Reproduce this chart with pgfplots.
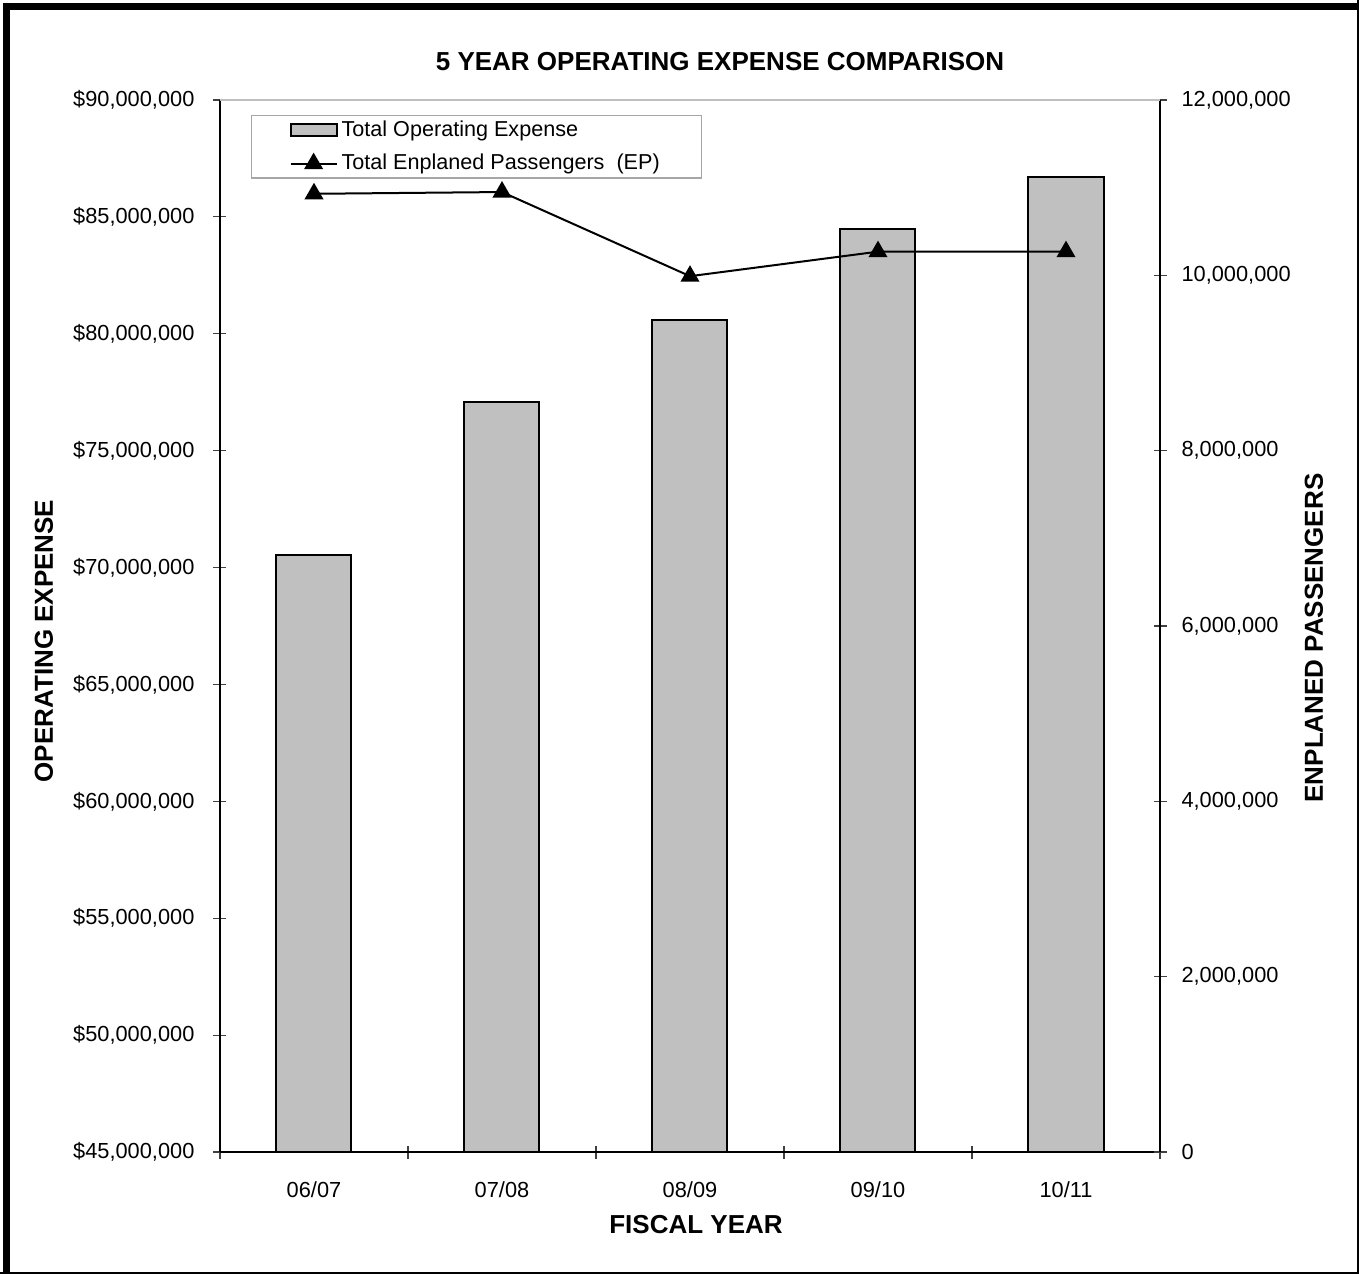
\documentclass[border=0pt]{standalone}
\usepackage{fontspec}
\setmainfont{Liberation Sans}
\usepackage{pgfplots}
\pgfplotsset{compat=1.18}
\definecolor{barfill}{HTML}{C0C0C0}
\pgfplotsset{wideline legend/.style={legend image code/.code={\draw[mark repeat=2,mark phase=2,##1] plot coordinates {(0pt,0pt) (11.5pt,0pt) (23pt,0pt)};}}}

\begin{document}
\begin{tikzpicture}
\useasboundingbox (-110pt,-61pt) rectangle (569.5pt,576pt);
\begin{axis}[
  at={(0pt,0pt)}, anchor=south west,
  scale only axis, width=470pt, height=526pt,
  xmin=-0.5, xmax=4.5,
  ymin=45000000, ymax=90000000,
  scaled y ticks=false,
  axis x line*=bottom, axis y line*=left,
  axis line style={-, black, line width=0.8pt},
  ytick={45000000,50000000,55000000,60000000,65000000,70000000,75000000,80000000,85000000,90000000},
  yticklabels={{\$45,000,000},{\$50,000,000},{\$55,000,000},{\$60,000,000},{\$65,000,000},{\$70,000,000},{\$75,000,000},{\$80,000,000},{\$85,000,000},{\$90,000,000}},
  xtick={0,1,2,3,4},
  xticklabels={06/07,07/08,08/09,09/10,10/11},
  minor xtick={-0.5,0.5,1.5,2.5,3.5,4.5},
  every major x tick/.append style={draw=none},
  tick align=center, major tick length=6.5pt, minor tick length=6.5pt,
  tick style={black!75, line width=0.6pt},
  tick label style={font=\fontsize{10.9}{12}\selectfont},
  xticklabel style={yshift=-8pt},
  yticklabel style={xshift=-6pt},
]
\addplot[ybar, bar width=37.5pt, fill=barfill, draw=black, line width=1pt]
  coordinates {(0,70530000) (1,77080000) (2,80590000) (3,84480000) (4,86700000)};
\end{axis}
\begin{axis}[
  at={(0pt,0pt)}, anchor=south west,
  scale only axis, width=470pt, height=526pt,
  xmin=-0.5, xmax=4.5,
  ymin=0, ymax=12000000,
  scaled y ticks=false,
  axis x line=none, axis y line*=right,
  axis line style={-, black, line width=0.8pt},
  ytick={0,2000000,4000000,6000000,8000000,10000000,12000000},
  yticklabels={0,{2,000,000},{4,000,000},{6,000,000},{8,000,000},{10,000,000},{12,000,000}},
  tick align=center, major tick length=6.5pt,
  tick style={black!75, line width=0.6pt},
  tick label style={font=\fontsize{10.9}{12}\selectfont},
  yticklabel style={xshift=4pt},
  legend style={at={(0.033,0.9857)}, anchor=north west, draw=gray!70, line width=0.6pt,
    font=\fontsize{10.8}{12}\selectfont, inner xsep=19pt, inner ysep=0.5pt, row sep=3.5pt},
  legend cell align=left,
]
\addlegendimage{legend image code/.code={\draw[fill=barfill, draw=black, line width=1pt] (0pt,-2.8pt) rectangle (23pt,2.8pt);}}
\addlegendentry{Total Operating Expense}
\addplot[black, line width=1pt, mark=triangle*, mark size=4.5pt, mark options={solid}, wideline legend]
  coordinates {(0,10930000) (1,10950000) (2,9990000) (3,10270000) (4,10270000)};
\addlegendentry{Total Enplaned Passengers\ \ (EP)}
\end{axis}
\draw[gray!50, line width=1pt] (0pt,526pt) -- (470pt,526pt);
\node[font=\bfseries\fontsize{13}{15}\selectfont] at (250pt,545pt) {5 YEAR OPERATING EXPENSE COMPARISON};
\node[font=\bfseries\fontsize{13}{15}\selectfont, rotate=90] at (-88pt,255.5pt) {OPERATING EXPENSE};
\node[font=\bfseries\fontsize{13}{15}\selectfont, rotate=90] at (547pt,257pt) {ENPLANED PASSENGERS};
\node[font=\bfseries\fontsize{13}{15}\selectfont] at (238pt,-36.5pt) {FISCAL YEAR};
\draw[line width=3.5pt] (-106.5pt,-60pt) -- (-106.5pt,572.5pt) -- (569.5pt,572.5pt);
\draw[line width=1pt] (568.75pt,576pt) -- (568.75pt,-60.5pt) -- (-110pt,-60.5pt);
\end{tikzpicture}
\end{document}
